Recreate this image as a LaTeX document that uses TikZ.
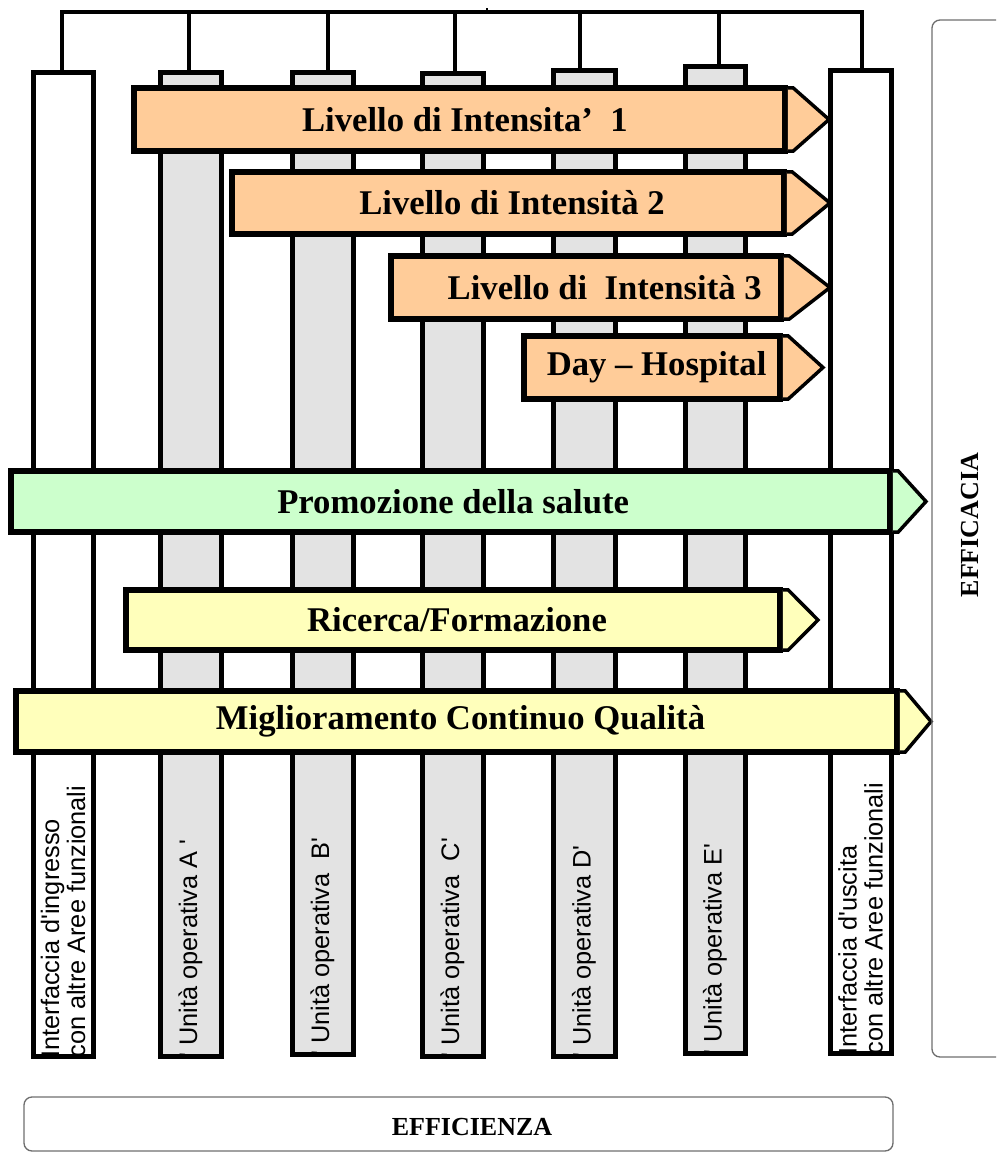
\documentclass[tikz,border=0pt]{standalone}
\usepackage{fontspec}
\setmainfont{Liberation Serif}
\newfontfamily\arialfont{Liberation Sans}
\usetikzlibrary{fit}

\definecolor{peach}{HTML}{FFCC99}
\definecolor{mint}{HTML}{CCFFCC}
\definecolor{cream}{HTML}{FFFFBB}
\definecolor{unitgray}{HTML}{E3E3E3}
\definecolor{framegray}{HTML}{6E6E6E}

% arrow point closing a bar: #1 bar node, #2 fill colour, #3 tip coordinate
\newcommand\barhead[3]{%
  \filldraw[arrowhd, fill=#2]
    ([yshift=-2pt]#1.north east) -- ([xshift=4pt,yshift=-2pt]#1.north east)
    -- (#3)
    -- ([xshift=4pt,yshift=2pt]#1.south east) -- ([yshift=2pt]#1.south east);}

\begin{document}
\begin{tikzpicture}[x=0.75pt,y=-0.75pt,
  colbox/.style={draw, line width=3.75pt, inner sep=0pt, fill=#1},
  barbox/.style={draw, line width=4.2pt, inner sep=0pt, fill=#1,
    font=\fontsize{26}{30}\selectfont\bfseries},
  arrowhd/.style={line width=2.6pt, line join=miter},
  busline/.style={line width=3pt, line join=miter},
  vlabel/.style={rotate=90, anchor=west, inner sep=0pt, align=left,
    font=\arialfont\fontsize{19}{19.5}\selectfont},
  framebox/.style={draw=framegray, line width=1pt, rounded corners=6pt, inner sep=0pt},
  frametext/.style={font=\fontsize{19.5}{22}\selectfont\bfseries}
]
\useasboundingbox (0,0) rectangle (996,1153);

% ---- vertical columns: interfaces (white) and operating units (grey)
\node[colbox=white,    fit={(33,72)(93,1056)}]   (colIn)  {};
\node[colbox=unitgray, fit={(160,72)(221,1056)}] (colA)   {};
\node[colbox=unitgray, fit={(292,72)(353,1054)}] (colB)   {};
\node[colbox=unitgray, fit={(422,73)(483,1056)}] (colC)   {};
\node[colbox=unitgray, fit={(553,70)(615,1056)}] (colD)   {};
\node[colbox=unitgray, fit={(685,66)(745,1053)}] (colE)   {};
\node[colbox=white,    fit={(830,70)(891,1053)}] (colOut) {};

% ---- column captions, read bottom to top
\node[vlabel] (labIn)  at ([yshift=0.5pt]colIn.south)  {Interfaccia d'ingresso\\con altre Aree funzionali};
\node[vlabel] (labA)   at ([yshift=0.5pt]colA.south)   {' Unità operativa A '};
\node[vlabel] (labB)   at ([yshift=0.5pt]colB.south)   {' Unità operativa\ \ B'};
\node[vlabel] (labC)   at ([yshift=0.5pt]colC.south)   {' Unità operativa\ \ C'};
\node[vlabel] (labD)   at ([yshift=0.5pt]colD.south)   {' Unità operativa D'};
\node[vlabel] (labE)   at ([yshift=0.5pt]colE.south)   {' Unità operativa E'};
\node[vlabel] (labOut) at ([yshift=0.5pt]colOut.south) {Interfaccia d'uscita\\con altre Aree funzionali};

% ---- bus joining the tops of all columns
\coordinate (busL) at (62,12);
\coordinate (busR) at (862,12);
\coordinate (dA) at (189,12);
\coordinate (dB) at (328,12);
\coordinate (dC) at (455,12);
\coordinate (dD) at (580,12);
\coordinate (dE) at (719,12);
\coordinate (tick) at (487,8);
\draw[busline] (colIn.north -| busL) -- (busL) -- (busR) -- (colOut.north -| busR);
\foreach \c/\d in {colA/dA, colB/dB, colC/dC, colD/dD, colE/dE}
  \draw[busline] (\c.north -| \d) -- (\d);
\draw[line width=2pt] (tick |- busL) -- (tick);

% ---- horizontal process bars
\coordinate (t1) at (829,119.5);
\coordinate (t2) at (830,203);
\coordinate (t3) at (830,287.5);
\coordinate (t4) at (823,367.5);
\coordinate (t5) at (926,501.5);
\coordinate (t6) at (818,620);
\coordinate (t7) at (931,721.5);

\node[barbox=peach, minimum width=488.25pt, minimum height=47.25pt] (lev1) at (459.5,119.5)
  {\hspace*{8pt}Livello di Intensita’\ \ 1};
\barhead{lev1}{peach}{t1}
\node[barbox=peach, minimum width=414pt, minimum height=46.5pt] (lev2) at (508,203)
  {\hspace*{6pt}Livello di Intensità 2};
\barhead{lev2}{peach}{t2}
\node[barbox=peach, minimum width=292.5pt, minimum height=47.25pt] (lev3) at (586,287.5)
  {\hspace*{28pt}Livello di\ \ Intensità 3};
\barhead{lev3}{peach}{t3}
\node[barbox=peach, minimum width=192pt, minimum height=47.25pt] (dayh) at (652,367.5)
  {\hspace*{7pt}Day – Hospital};
\barhead{dayh}{peach}{t4}
\node[barbox=mint, minimum width=659.25pt, minimum height=45.75pt] (promo) at (450.5,501.5)
  {\hspace*{4pt}Promozione della salute};
\barhead{promo}{mint}{t5}
\node[barbox=cream, minimum width=490.5pt, minimum height=45pt] (ricerca) at (453,620)
  {\hspace*{6pt}Ricerca/Formazione};
\barhead{ricerca}{cream}{t6}
\node[barbox=cream, minimum width=660.75pt, minimum height=45.75pt] (mcq) at (456.5,721.5)
  {\hspace*{6pt}Miglioramento Continuo Qualità};
\barhead{mcq}{cream}{t7}

% ---- outer frames: effectiveness (right) and efficiency (bottom)
\begin{scope}
  \clip (0,0) rectangle (996,1153);
  \node[framebox, fit={(932,20)(1030,1057)}] (effbox) {};
  \node[framebox, fit={(24,1097)(893,1151)}] (effibox) {};
\end{scope}
\node[frametext, rotate=90] (efficacia)  at (970,525)  {EFFICACIA};
\node[frametext]            (efficienza) at (472,1127) {EFFICIENZA};
\end{tikzpicture}
\end{document}
